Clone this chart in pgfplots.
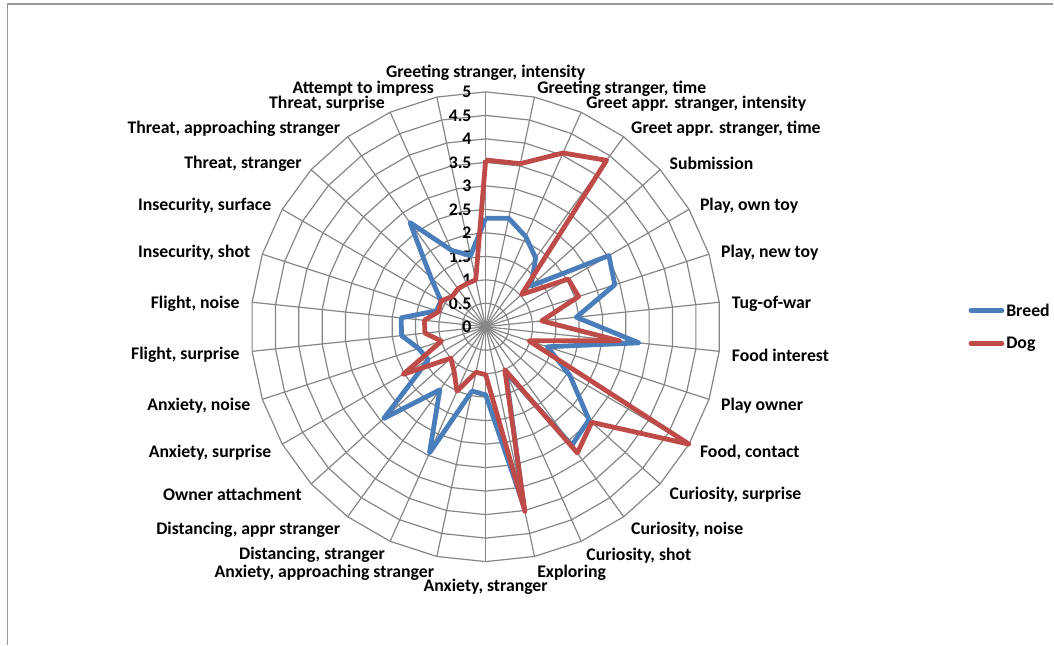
\documentclass[border=0pt]{standalone}
\usepackage{pgfplots}
\pgfplotsset{compat=1.18}
\usepackage{pgfplotstable}
\usepackage{fontspec}
\setmainfont{Carlito}

\definecolor{breed}{HTML}{4A7EBB}
\definecolor{dog}{HTML}{BE4B48}
\definecolor{gridgray}{HTML}{868686}
\definecolor{framegray}{HTML}{999999}

% scores per item, clockwise from the top; last row closes the polygon
\pgfplotstableread{
idx breed dog
0  2.31 3.55
1  2.36 3.55
2  2.10 4.05
3  1.81 4.38
4  1.30 1.03
5  3.03 2.03
6  2.89 2.08
7  1.94 1.20
8  3.28 2.86
9  1.38 0.97
10 2.07 5.00
11 2.96 3.04
12 3.12 3.32
13 1.05 1.00
14 3.90 4.02
15 1.45 1.02
16 1.40 0.99
17 2.94 1.50
18 1.66 1.15
19 2.92 1.00
20 1.41 2.03
21 1.50 0.99
22 1.80 1.30
23 1.81 1.31
24 1.10 1.05
25 1.10 1.10
26 1.57 0.96
27 2.74 1.00
28 1.78 1.00
29 1.55 1.02
30 2.31 3.55
}\radar

\newcommand\labfont{\fontsize{17.8}{20}\selectfont\bfseries}

\begin{document}
\begin{tikzpicture}[x=1bp,y=1bp]
\path (0,0) rectangle (1054,645);
% frame
\draw[framegray, line width=1.5bp] (7.5,0) -- (7.5,641) -- (1054,641);
% web
\begin{scope}[shift={(486,318)}]
  \foreach \k in {1,...,10}
    \draw[gridgray, line width=1.2bp] (90:{23.5*\k})
      \foreach \a in {1,...,29}{ -- ({90-12*\a}:{23.5*\k}) } -- cycle;
  \foreach \a in {0,...,29}
    \draw[gridgray, line width=1.2bp] (0,0) -- ({90-12*\a}:235);
  \foreach \lab [count=\i from 0] in {
    {Greeting stranger, intensity},{Greeting stranger, time},
    {Greet appr. stranger, intensity},{Greet appr. stranger, time},
    {Submission},{Play, own toy},{Play, new toy},{Tug-of-war},
    {Food interest},{Play owner},{Food, contact},{Curiosity, surprise},
    {Curiosity, noise},{Curiosity, shot},{Exploring},{Anxiety, stranger},
    {Anxiety, approaching stranger},{Distancing, stranger},
    {Distancing, appr stranger},{Owner attachment},{Anxiety, surprise},
    {Anxiety, noise},{Flight, surprise},{Flight, noise},{Insecurity, shot},
    {Insecurity, surface},{Threat, stranger},{Threat, approaching stranger},
    {Threat, surprise},{Attempt to impress}}{
    \def\dy{-2.5}
    \ifnum\i=1 \def\dy{-4}\fi
    \ifnum\i=29 \def\dy{-4}\fi
    \ifnum\i=14 \def\dy{-4}\fi
    \ifnum\i=16 \def\dy{-4}\fi
    \ifnum\i=0 \def\anc{south}\def\rr{246}\def\dy{0}\else
      \ifnum\i=15 \def\anc{north}\def\rr{250}\else
        \def\rr{247.5}\ifnum\i<15 \def\anc{west}\else \def\anc{east}\fi\fi\fi
    \node[anchor=\anc, font=\labfont, inner sep=0pt, yshift=\dy] at ({90-12*\i}:\rr) {\lab};
  }
  \foreach \v [count=\k from 0] in {0,0.5,1,1.5,2,2.5,3,3.5,4,4.5,5}
    \node[anchor=east, font=\labfont, inner sep=0pt] at (-14,{23.5*\k}) {\v};
\end{scope}
\begin{axis}[
  at={(0,0)}, anchor=south west,
  width=1054bp, height=645bp, scale only axis,
  xmin=0, xmax=1054, ymin=0, ymax=645,
  hide axis, clip=false,
  legend style={at={(axis cs:969,318)}, anchor=west, draw=none, fill=none,
    font=\labfont, row sep=15bp, inner sep=0pt},
  legend cell align=left,
  legend image code/.code={\draw[#1, line cap=round] (0bp,0bp) -- (31bp,0bp);},
]
\addplot[breed, line width=4.8bp, line join=round, mark=none]
  table[x expr=486+47*\thisrow{breed}*cos(90-12*\thisrow{idx}),
        y expr=318+47*\thisrow{breed}*sin(90-12*\thisrow{idx})] {\radar};
\addplot[dog, line width=4.8bp, line join=round, mark=none]
  table[x expr=486+47*\thisrow{dog}*cos(90-12*\thisrow{idx}),
        y expr=318+47*\thisrow{dog}*sin(90-12*\thisrow{idx})] {\radar};
\legend{Breed, Dog}
\end{axis}
\end{tikzpicture}
\end{document}
